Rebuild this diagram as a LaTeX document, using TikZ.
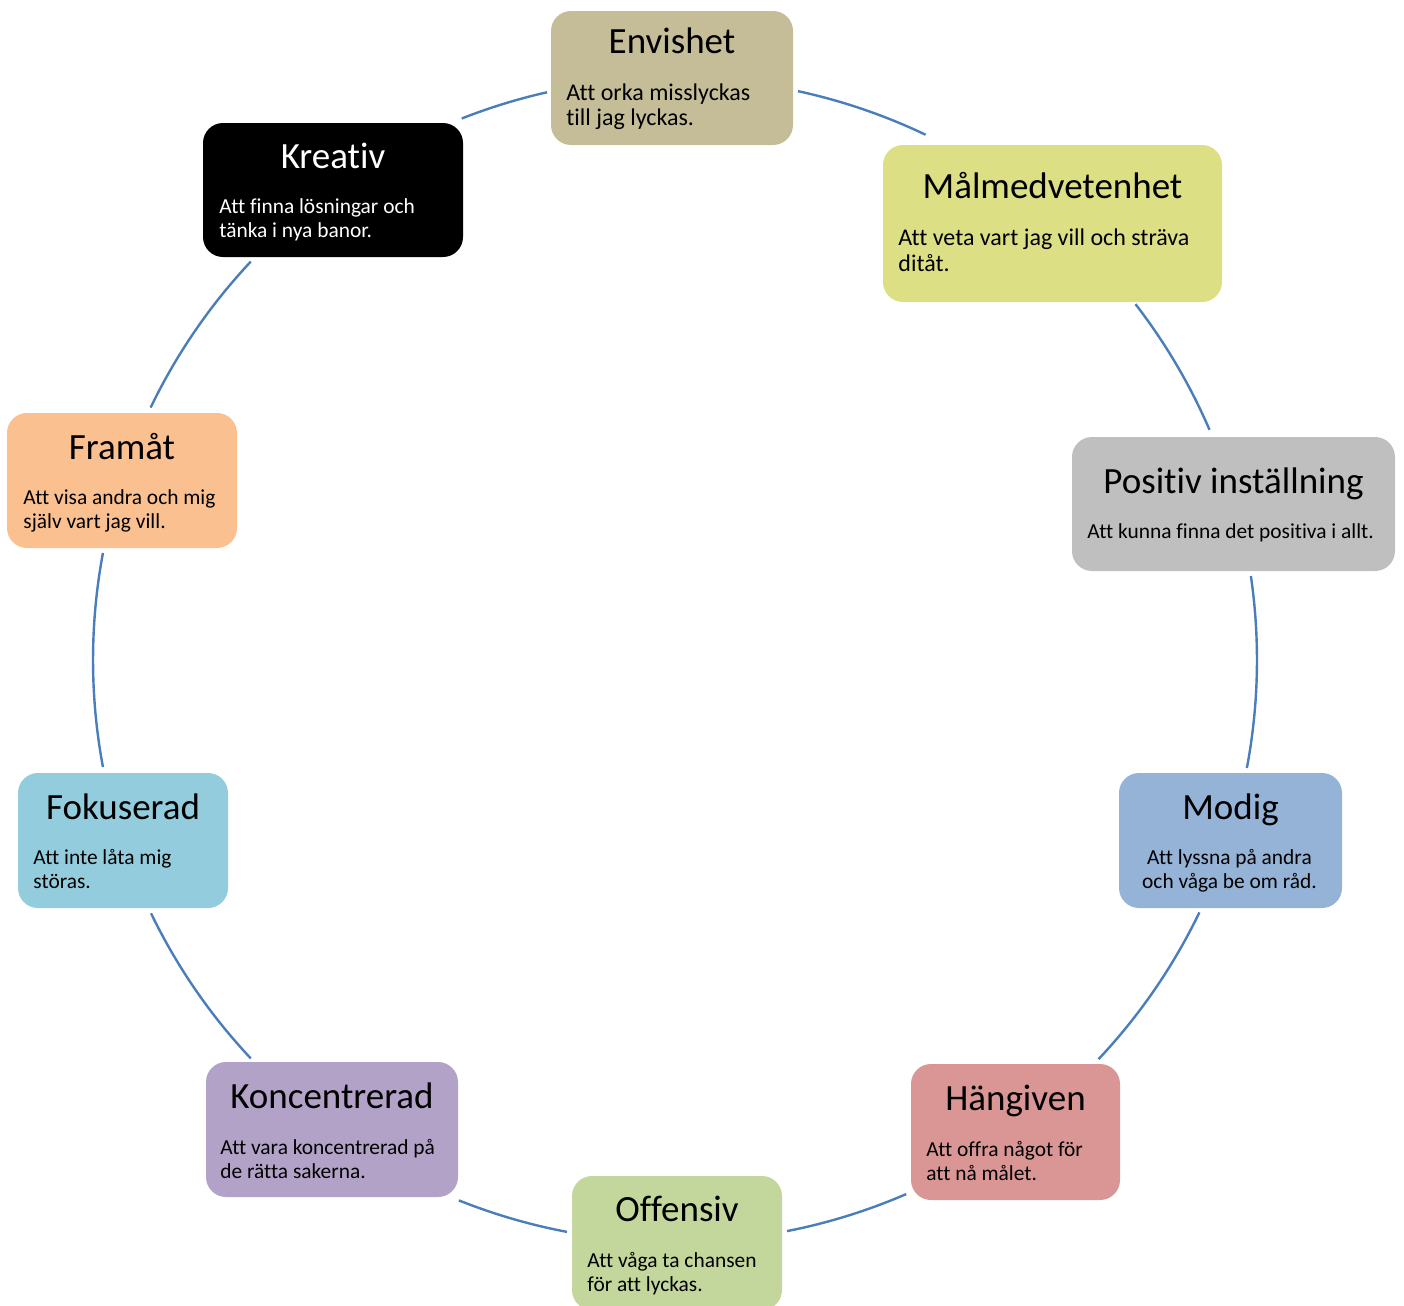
\documentclass[tikz,border=0pt]{standalone}
\usepackage{fontspec}
\setmainfont[Ligatures={NoCommon}]{Carlito}
\usepackage{xcolor}
\usepackage{tikz}
\definecolor{envis}{HTML}{C4BD97}
\definecolor{malm}{HTML}{DDDF85}
\definecolor{positiv}{HTML}{BFBFBF}
\definecolor{modig}{HTML}{95B3D7}
\definecolor{hangiven}{HTML}{D99694}
\definecolor{offensiv}{HTML}{C3D69B}
\definecolor{koncentr}{HTML}{B3A2C7}
\definecolor{fokus}{HTML}{93CDDD}
\definecolor{framat}{HTML}{FAC090}
\definecolor{ringbla}{HTML}{4A7EBB}
\newcommand{\rader}[1]{\begin{tabular}[t]{@{}l@{}}#1\end{tabular}}
\newcommand{\radermitt}[1]{\begin{tabular}[t]{@{}c@{}}#1\end{tabular}}

\begin{document}
\begin{tikzpicture}[x=0.5pt, y=0.5pt]
      % stilar
      \tikzstyle{ruta}=[rectangle, rounded corners=10pt, inner sep=0pt]
      \tikzstyle{rubrik}=[anchor=base, inner sep=0pt, font=\fontsize{18.5}{22}\selectfont]
      % brodtext, vanlig och lite storre
      \tikzstyle{rad}=[anchor=base west, inner sep=0pt, font=\fontsize{10.7}{12}\selectfont]
      \tikzstyle{radstor}=[anchor=base west, inner sep=0pt, font=\fontsize{12}{12.5}\selectfont]
      % cirkelbagarna mellan rutorna
      \tikzstyle{ring}=[draw=ringbla, line width=1.2pt]

      \useasboundingbox (0,0) rectangle (1404,-1306);
      \coordinate (mitt) at (675,-660);

      % Envishet
      \node[ruta, fill=envis, minimum width=121pt, minimum height=67pt] (Env) at (672,-78) {};
      \node[rubrik] (EnvRubrik) at (672,-54) {Envishet};
      \node[radstor] (EnvText) at (566,-100.7) {\rader{Att orka misslyckas\\till jag lyckas.}};

      % Malmedvetenhet
      \node[ruta, fill=malm, minimum width=169.5pt, minimum height=78.5pt] (Malm) at (1052.5,-223.5) {};
      \node[rubrik] (MalmRubrik) at (1052.5,-198) {Målmedvetenhet};
      \node[radstor, font=\fontsize{12}{13}\selectfont] (MalmText) at (898,-245.7) {\rader{Att veta vart jag vill och sträva\\ditåt.}};

      % Positiv installning
      \node[ruta, fill=positiv, minimum width=161.5pt, minimum height=67pt] (Pos) at (1233.5,-504) {};
      \node[rubrik] (PosRubrik) at (1233.5,-493) {Positiv inställning};
      \node[rad] (PosText) at (1087,-538) {Att kunna finna det positiva i allt.};

      % Modig
      \node[ruta, fill=modig, minimum width=111.5pt, minimum height=67.5pt] (Modig) at (1230.5,-840.5) {};
      \node[rubrik] (ModigRubrik) at (1230.5,-819) {Modig};
      \node[rad, anchor=base] (ModigText) at (1229.5,-864) {\radermitt{Att lyssna på andra\\och våga be om råd.}};

      % Hangiven
      \node[ruta, fill=hangiven, minimum width=104.5pt, minimum height=68pt] (Hang) at (1015.5,-1132) {};
      \node[rubrik] (HangRubrik) at (1015.5,-1110) {Hängiven};
      \node[rad] (HangText) at (926,-1156) {\rader{Att offra något för\\att nå målet.}};

      % Offensiv
      \node[ruta, fill=offensiv, minimum width=105pt, minimum height=67pt] (Off) at (677,-1243) {};
      \node[rubrik] (OffRubrik) at (677,-1221) {Offensiv};
      \node[rad] (OffText) at (587,-1267) {\rader{Att våga ta chansen\\för att lyckas.}};

      % Koncentrerad
      \node[ruta, fill=koncentr, minimum width=126pt, minimum height=67.5pt] (Konc) at (332,-1129.5) {};
      \node[rubrik] (KoncRubrik) at (332,-1108) {Koncentrerad};
      \node[rad] (KoncText) at (220,-1154) {\rader{Att vara koncentrerad på\\de rätta sakerna.}};

      % Fokuserad
      \node[ruta, fill=fokus, minimum width=105pt, minimum height=67.5pt] (Fok) at (123,-840.5) {};
      \node[rubrik] (FokRubrik) at (123,-819) {Fokuserad};
      \node[rad] (FokText) at (33,-864) {\rader{Att inte låta mig\\störas.}};

      % Framat
      \node[ruta, fill=framat, minimum width=115pt, minimum height=67.5pt] (Fram) at (122,-480.5) {};
      \node[rubrik] (FramRubrik) at (122,-459) {Framåt};
      \node[rad] (FramText) at (23,-504) {\rader{Att visa andra och mig\\själv vart jag vill.}};

      % Kreativ
      \node[ruta, fill=black, minimum width=130pt, minimum height=67pt] (Kreat) at (333,-190) {};
      \node[rubrik, text=white] (KreatRubrik) at (333,-168) {Kreativ};
      \node[rad, text=white] (KreatText) at (219,-213) {\rader{Att finna lösningar och\\tänka i nya banor.}};

      % bagarna, medurs runt (mitt)
      % Envishet - Malmedvetenhet
      \draw[ring] (mitt) ++(77.8:582) arc[start angle=77.8, end angle=64.5, radius=582];
      % Malmedvetenhet - Positiv installning
      \draw[ring] (mitt) ++(37.7:582) arc[start angle=37.7, end angle=23.3, radius=582];
      % Positiv installning - Modig
      \draw[ring] (mitt) ++(8.3:582) arc[start angle=8.3, end angle=-10.7, radius=582];
      % Modig - Hangiven
      \draw[ring] (mitt) ++(-25.7:582) arc[start angle=-25.7, end angle=-43.3, radius=582];
      % Hangiven - Offensiv
      \draw[ring] (mitt) ++(-66.6:582) arc[start angle=-66.6, end angle=-78.9, radius=582];
      % Offensiv - Koncentrerad
      \draw[ring] (mitt) ++(-100.7:582) arc[start angle=-100.7, end angle=-111.8, radius=582];
      % Koncentrerad - Fokuserad
      \draw[ring] (mitt) ++(-136.8:582) arc[start angle=-136.8, end angle=-154.2, radius=582];
      % Fokuserad - Framat
      \draw[ring] (mitt) ++(-169.4:582) arc[start angle=-169.4, end angle=-190.6, radius=582];
      % Framat - Kreativ
      \draw[ring] (mitt) ++(154.3:582) arc[start angle=154.3, end angle=136.8, radius=582];
      % Kreativ - Envishet
      \draw[ring] (mitt) ++(111.5:582) arc[start angle=111.5, end angle=102.7, radius=582];
\end{tikzpicture}
\end{document}
